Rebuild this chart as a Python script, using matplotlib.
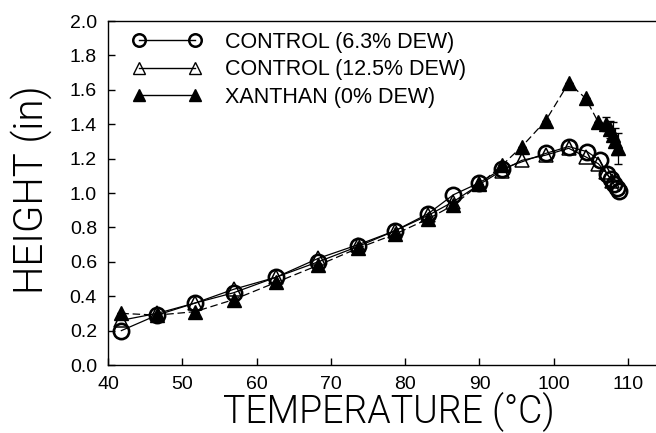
import numpy as np
import matplotlib
matplotlib.use("Agg")
import matplotlib.pyplot as plt
from matplotlib.lines import Line2D
from matplotlib import font_manager

plt.rcParams['font.family'] = ['Liberation Sans', 'DejaVu Sans']

# control 6.3% dew (open circles)
ctl63_t = [41.8, 46.6, 51.7, 56.9, 62.6, 68.3, 73.7, 78.6, 83.1, 86.5, 90.0,
           93.0, 98.9, 102.0, 104.5, 106.2, 107.2, 107.7, 108.1, 108.5, 108.8]
ctl63_h = [0.20, 0.29, 0.36, 0.42, 0.51, 0.60, 0.69, 0.78, 0.88, 0.99, 1.06,
           1.14, 1.23, 1.27, 1.24, 1.19, 1.11, 1.08, 1.05, 1.03, 1.01]

# control 12.5% dew (open triangles)
ctl125_t = [41.8, 46.6, 51.7, 56.9, 62.6, 68.3, 73.7, 78.6, 83.1, 86.5, 90.0,
            93.0, 95.7, 98.9, 102.0, 104.3, 106.0, 107.0, 107.8]
ctl125_h = [0.26, 0.30, 0.36, 0.44, 0.51, 0.62, 0.70, 0.78, 0.87, 0.95, 1.05,
            1.13, 1.19, 1.22, 1.26, 1.21, 1.17, 1.12, 1.07]

# xanthan 0% dew (filled triangles)
xan_t = [41.8, 46.6, 51.7, 56.9, 62.6, 68.3, 73.7, 78.6, 83.1, 86.5, 90.0,
         93.0, 95.7, 98.9, 102.0, 104.3, 106.0, 107.0, 107.6, 108.0, 108.3, 108.6]
xan_h = [0.30, 0.29, 0.31, 0.38, 0.48, 0.58, 0.68, 0.76, 0.85, 0.93, 1.05,
         1.16, 1.27, 1.42, 1.64, 1.55, 1.41, 1.40, 1.37, 1.34, 1.30, 1.26]
xan_err = [0, 0, 0, 0, 0, 0, 0, 0, 0, 0, 0,
           0, 0, 0, 0, 0, 0, 0.04, 0.05, 0.07, 0.08, 0.09]

labels = ['CONTROL (6.3% DEW)', 'CONTROL (12.5% DEW)', 'XANTHAN (0% DEW)']
xticks = [40, 50, 60, 70, 80, 90, 100, 110]
yticks = [0.0, 0.2, 0.4, 0.6, 0.8, 1.0, 1.2, 1.4, 1.6, 1.8, 2.0]

# look for a light sans weight for the big axis titles (thin strokes in the original)
light_file = None
for fam in ['Roboto', 'Lato', 'Open Sans', 'Inter', 'Noto Sans']:
    for f in font_manager.fontManager.ttflist:
        w = f.weight if isinstance(f.weight, int) else 400
        if f.name == fam and f.style == 'normal' and 200 <= w <= 300:
            light_file = f.fname
            break
    if light_file:
        break

def title_font(size):
    if light_file:
        return font_manager.FontProperties(fname=light_file, size=size)
    return font_manager.FontProperties(family='Liberation Sans', size=size)

fig = plt.figure(figsize=(6.56, 4.33), dpi=100)
ax = fig.add_axes([108/656, 68/433, 548/656, 344/433])

ax.plot(ctl63_t, ctl63_h, color='k', lw=0.9, marker='o', ms=11,
        mfc='none', mec='k', mew=1.9, zorder=4)
ax.plot(ctl125_t, ctl125_h, color='k', lw=0.9, marker='^', ms=10,
        mfc='none', mec='k', mew=1.1, zorder=3)
ax.errorbar(xan_t, xan_h, yerr=xan_err, color='k', lw=0.9, ls=(0, (6, 3)),
            marker='^', ms=10, mfc='k', mec='k', elinewidth=0.9,
            capsize=3, zorder=2)

ax.set_xlim(40, 40 + 548/7.43)
ax.set_ylim(0, 2.0)
ax.set_xticks(xticks)
ax.set_yticks(yticks)
ax.set_yticklabels(['%.1f' % v for v in yticks])
ax.tick_params(direction='in', length=5, width=1, labelsize=14, pad=8)
ax.spines['right'].set_visible(False)
for s in ['left', 'bottom', 'top']:
    ax.spines[s].set_linewidth(1.0)

handles = [
    Line2D([], [], color='k', lw=1, marker='o', ms=9, mfc='none', mew=1.8),
    Line2D([], [], color='k', lw=1, marker='^', ms=9, mfc='none', mew=1.0),
    Line2D([], [], color='k', lw=1, marker='^', ms=9, mfc='k'),
]
ax.legend(handles, labels, loc='upper left', bbox_to_anchor=(0.045, 0.968),
          frameon=False, numpoints=2, handlelength=3.2, handletextpad=1.1,
          labelspacing=0.3, borderpad=0, borderaxespad=0,
          prop={'size': 15.5})

fig.text(389/656, 1 - 412/433, 'TEMPERATURE (\u00b0C)', ha='center',
         va='center', fontproperties=title_font(27))
fig.text(31/656, 1 - 190/433, 'HEIGHT (in)', rotation=90, ha='center',
         va='center', fontproperties=title_font(29))

fig.savefig('out.png', dpi=100)
